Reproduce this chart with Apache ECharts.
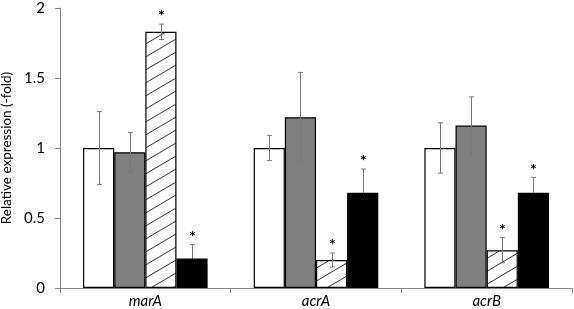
<!DOCTYPE html>
<html>
<head>
<meta charset="utf-8">
<script src="https://cdn.jsdelivr.net/npm/echarts@6/dist/echarts.min.js"></script>
<style>
html,body{margin:0;padding:0;background:#fff;}
#chart{width:574px;height:309px;}
</style>
</head>
<body>
<div id="chart"></div>
<script>
var categories = ['marA', 'acrA', 'acrB'];
var whiteVals = [1.00, 1.00, 1.00];
var whiteErr = [0.26, 0.09, 0.18];
var grayVals = [0.97, 1.22, 1.16];
var grayErr = [0.14, 0.32, 0.205];
var hatchVals = [1.83, 0.20, 0.27];
var hatchErr = [0.055, 0.05, 0.09];
var blackVals = [0.21, 0.68, 0.68];
var blackErr = [0.10, 0.17, 0.11];
var hatchStars = [true, true, true];
var blackStars = [true, true, true];
var yTicks = [0, 0.5, 1, 1.5, 2];

var FONT = 'Lato';
var CAT_GAP = 0.27;

// hatch pattern tile
var tile = document.createElement('canvas');
var TW = 22, TH = 13;
tile.width = TW; tile.height = TH;
var tctx = tile.getContext('2d');
tctx.fillStyle = '#fff';
tctx.fillRect(0, 0, TW, TH);
tctx.strokeStyle = '#333';
tctx.lineWidth = 1;
for (var dx = -1; dx <= 1; dx++) {
  for (var dy = -1; dy <= 1; dy++) {
    tctx.beginPath();
    tctx.moveTo(dx * TW, TH + dy * TH);
    tctx.lineTo(TW + dx * TW, dy * TH);
    tctx.stroke();
  }
}

var seriesVals = [whiteVals, grayVals, hatchVals, blackVals];
var seriesErr = [whiteErr, grayErr, hatchErr, blackErr];
var seriesStars = [[false,false,false],[false,false,false], hatchStars, blackStars];

var errData = [];
for (var s = 0; s < 4; s++) {
  for (var c = 0; c < categories.length; c++) {
    var v = seriesVals[s][c], e = seriesErr[s][c];
    errData.push([c, s, v - e, v + e, v, seriesStars[s][c] ? 1 : 0]);
  }
}

var chart = echarts.init(document.getElementById('chart'), null, {renderer: 'canvas'});

var barStyle = function (color) {
  return {color: color, borderColor: '#000', borderWidth: 1.2};
};

chart.setOption({
  animation: false,
  grid: {left: 60, right: 2, top: 8, bottom: 21, containLabel: false, outerBoundsMode: 'none'},
  xAxis: {
    type: 'category',
    data: categories,
    boundaryGap: true,
    axisLine: {lineStyle: {color: '#868686', width: 1}},
    axisTick: {show: true, length: 5, lineStyle: {color: '#868686'}},
    axisLabel: {fontFamily: FONT, fontStyle: 'italic', fontSize: 15, color: '#000', margin: 6}
  },
  yAxis: {
    type: 'value',
    min: yTicks[0],
    max: yTicks[yTicks.length - 1],
    interval: yTicks[1] - yTicks[0],
    name: 'Relative expression (-fold)',
    nameLocation: 'middle',
    nameRotate: 90,
    nameGap: 42,
    nameTextStyle: {fontFamily: FONT, fontSize: 13.5, color: '#000'},
    splitLine: {show: false},
    axisLine: {show: true, lineStyle: {color: '#868686', width: 1}},
    axisTick: {show: true, length: 5, inside: false, lineStyle: {color: '#868686'}},
    axisLabel: {fontFamily: FONT, fontSize: 15, color: '#000', margin: 15}
  },
  series: [
    {type: 'bar', data: whiteVals, barGap: '0%', barCategoryGap: (CAT_GAP * 100) + '%', itemStyle: barStyle('#ffffff')},
    {type: 'bar', data: grayVals, barGap: '0%', barCategoryGap: (CAT_GAP * 100) + '%', itemStyle: barStyle('#808080')},
    {type: 'bar', data: hatchVals, barGap: '0%', barCategoryGap: (CAT_GAP * 100) + '%', itemStyle: {color: {image: tile, repeat: 'repeat'}, borderColor: '#000', borderWidth: 1.2}},
    {type: 'bar', data: blackVals, barGap: '0%', barCategoryGap: (CAT_GAP * 100) + '%', itemStyle: barStyle('#000000')},
    {
      type: 'custom',
      data: errData,
      encode: {x: 0, y: 3},
      z: 10,
      renderItem: function (params, api) {
        var c = api.value(0), s = api.value(1);
        var lo = api.value(2), hi = api.value(3), v = api.value(4), star = api.value(5);
        var bw = api.size([1, 0])[0] * (1 - CAT_GAP) / 4;
        var off = (s - 1.5) * bw;
        var pHi = api.coord([c, hi]);
        var pLo = api.coord([c, lo]);
        var pV = api.coord([c, v]);
        var x = Math.round(pHi[0] + off) + 0.5;
        var cap = 2.5;
        var col = '#7a7a7a';
        var lowCol = s === 3 ? '#000' : col;
        var children = [
          {type: 'line', shape: {x1: x, y1: pHi[1], x2: x, y2: pV[1]}, style: {stroke: col, lineWidth: 1}},
          {type: 'line', shape: {x1: x - cap, y1: pHi[1], x2: x + cap, y2: pHi[1]}, style: {stroke: col, lineWidth: 1}},
          {type: 'line', shape: {x1: x, y1: pV[1], x2: x, y2: pLo[1]}, style: {stroke: lowCol, lineWidth: 1}},
          {type: 'line', shape: {x1: x - cap, y1: pLo[1], x2: x + cap, y2: pLo[1]}, style: {stroke: lowCol, lineWidth: 1}}
        ];
        if (star) {
          children.push({
            type: 'text',
            style: {text: '*', x: x, y: pHi[1] - 8, fill: '#000', font: 'bold 16px ' + FONT, textAlign: 'center', textVerticalAlign: 'middle'}
          });
        }
        return {type: 'group', children: children};
      }
    }
  ]
});
</script>
</body>
</html>
